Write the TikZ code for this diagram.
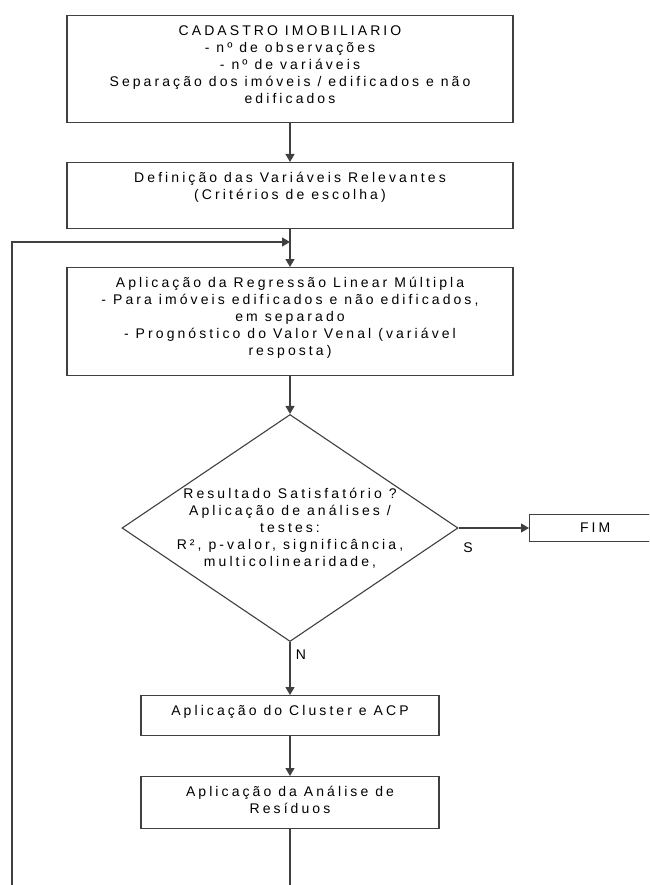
\documentclass[tikz,border=0pt]{standalone}
\usepackage{fontspec}
\setmainfont{Liberation Sans}[LetterSpace=22]
\usetikzlibrary{shapes.geometric}
\usetikzlibrary{arrows.meta}
\definecolor{linegray}{gray}{0.25}
\newcommand{\boxlines}[3]{\parbox[c][#1][t]{#2}{\centering #3}}
\tikzset{>={Triangle[length=8pt,width=9pt]}}
\tikzset{
  procbox/.style={draw=linegray, line width=1.3pt, inner xsep=4pt, inner ysep=10pt, anchor=north},
  decision/.style={diamond, draw=linegray, line width=1.1pt, minimum width=336pt, minimum height=227pt, inner sep=0pt},
  endbox/.style={draw=linegray, line width=1.3pt, inner sep=0pt, minimum width=131pt, minimum height=27pt, anchor=west},
  flow/.style={draw=linegray, line width=1.3pt}
}

\begin{document}
\begin{tikzpicture}[
     x=1pt,y=-1pt,        % pixel grid, y going down
     font=\fontsize{14}{17}\selectfont
  ]
  \def\xc{290}  % main column
  \useasboundingbox (0,0) rectangle (649,885);
  \fill[white] (0,0) rectangle (649,885);
  \clip (0,0) rectangle (649,885);
  % steps
  \node[procbox] (cad) at (\xc,15) {\boxlines{87pt}{438pt}{CADASTRO IMOBILIARIO\\- nº de observações\\- nº de variáveis\\Separação dos imóveis / edificados e não\\edificados}};
  \node[procbox] (def) at (\xc,162) {\boxlines{46pt}{438pt}{Definição das Variáveis Relevantes\\(Critérios de escolha)}};
  \node[procbox] (reg) at (\xc,267) {\boxlines{88pt}{438pt}{Aplicação da Regressão Linear Múltipla\\- Para imóveis edificados e não edificados,\\em separado\\- Prognóstico do Valor Venal (variável\\resposta)}};
  \node[decision] (ok) at (\xc,528) {\makebox[0pt]{\parbox{260pt}{\centering Resultado Satisfatório ?\\Aplicação de análises /\\testes:\\R², p-valor, significância,\\multicolinearidade,}}};
  \node[endbox] (fim) at (529,528) {FIM};
  \node[procbox] (acp) at (\xc,695) {\boxlines{20pt}{290pt}{Aplicação do Cluster e ACP}};
  \node[procbox] (res) at (\xc,776) {\boxlines{32pt}{290pt}{Aplicação da Análise de\\Resíduos}};
  \node (yes) at (468,548) {S};
  \node (no) at (301,655) {N};
  % loop back
  \coordinate (join) at (\xc,242);
  \coordinate (loopbot) at (\xc,900);
  \coordinate (loopleft) at (12,900);
  \draw[flow,->] (cad) -- (def);
  \draw[flow,->] (def) -- (reg);
  \draw[flow,->] (reg) -- (ok);
  \draw[flow,->] (ok.east) -- (fim.west);
  \draw[flow,->] (ok.south) -- (acp);
  \draw[flow,->] (acp) -- (res);
  \draw[flow,->] (res.south) -- (loopbot) -- (loopleft) |- (join);
\end{tikzpicture}
\end{document}
